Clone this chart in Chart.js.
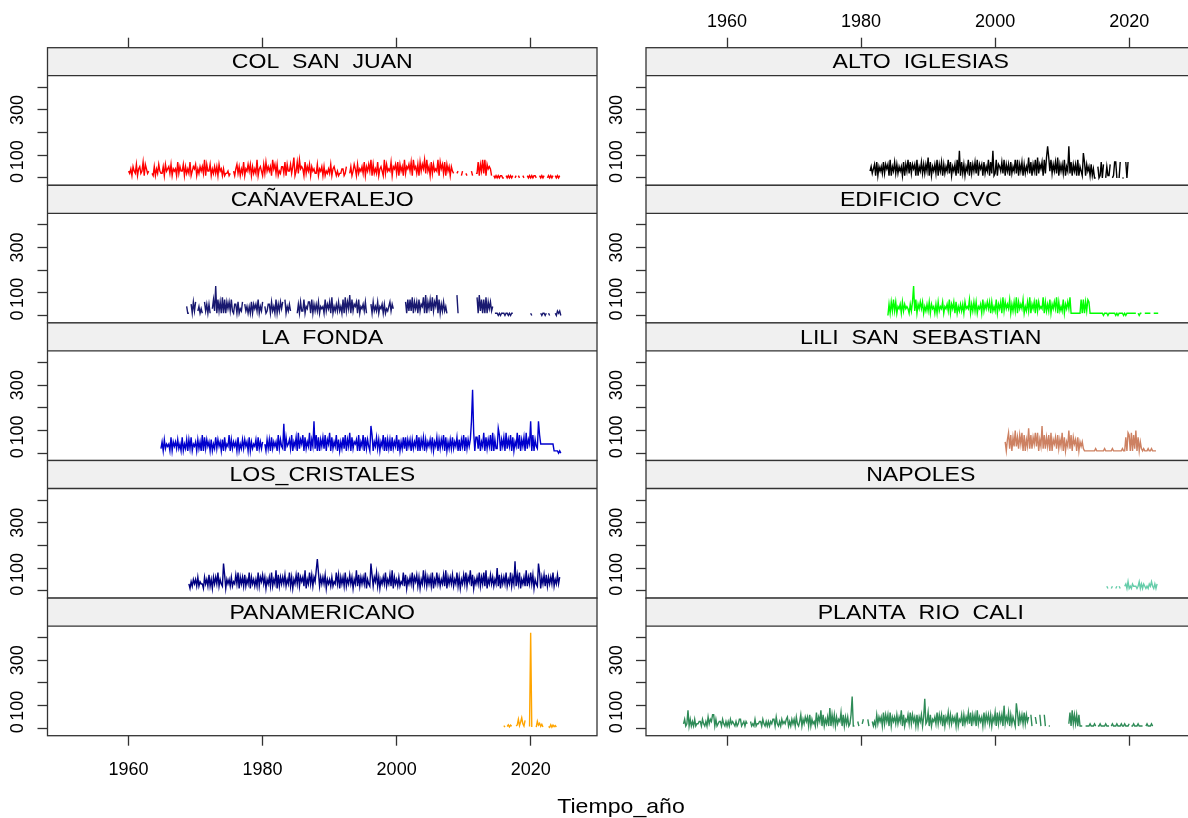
<!DOCTYPE html>
<html>
<head>
<meta charset="utf-8">
<script src="https://cdn.jsdelivr.net/npm/chart.js@4.4.1/dist/chart.umd.min.js"></script>
<style>
html, body { margin: 0; padding: 0; background: #fff; overflow: hidden; width: 1188px; height: 818px; }
canvas { position: absolute; left: 0; top: 0; }
#xlab { position: absolute; left: 421px; top: 794px; width: 400px; text-align: center;
        font: 21px "Liberation Sans", Arial, sans-serif; line-height: 24px; color: #000;
        transform: scaleX(1.1); }
</style>
</head>
<body>
<div id="panels"></div>
<div id="xlab">Tiempo_año</div>
<script>
// one character per two months (6 per year), unit 10 mm (0-9, a=100, b=110, ...), "." = no data
const colSanJuan = "324153 261452 371642 3..215 142632 251634 526143 417253 361524 271354 614253 528163 361425 251634 141223 12..31 462514 271436 361524 281453 162735 351846 261325 527163 362591 372845 417253 615342 261435 151324 261453 131224 4125.. 251364 162435 271536 381624 271453 182634 371546 271635 182546 371845 261736 482835 172634 381746 271635 1532.. 23..13 ..21.. .31..2 271638 281645 41.101 010110 0.1010 101.01 .10..1 0..101 010110 ..1010 1..010 101.10 101";
const canaveralejo = "41 1.5162 6.2413 1.6251 51.372 d17261 817163 627215 516132 6.5241 416153 527142 6.4125 516241 715263 6.7142 52.... .15162 271436 617152 526143 417253 618142 526241 718263 917254 617143 5261.. .51624 261435 151324 6253.. ...... ..6172 728163 617254 819163 728264 917152 6241.. ...... 91.... ...... ...... 819271 718163 624.11 101011 101101 011... ...... ...... 10.... ...101 101.10 ....10 2120";
const laFonda = "2 516243 417153 526241 714261 627143 516251 817263 516142 726351 617243 816253 517142 626351 715243 617252 5.4162 617253 518263 2d1734 628153 719264 817253 9163e2 817163 728164 917253 816152 728163 917254 618153 817263 1c8153 726153 817162 617253 816152 727163 616253 817163 716253 627153 716263 817152 627253 716163 817263 6es917 728153 917263 819162 2b8163 719263 817153 928163 719264 e18163 2e8444 444444 444111 1010";
const losCristales = "314253 526243 316352 725163 638253 2c7153 526243 738163 627253 816352 528264 736153 628253 917263 637253 826153 738264 629153 837264 9e8263 637153 526243 837163 628253 736153 927263 638153 2c7264 826153 638253 729163 526243 827153 638264 726153 937263 628153 836253 729163 637253 826153 738264 927153 638263 829153 736253 a27163 638253 8263d2 738153 629263 837153 2c8163 727263 638253 736";
const panamericano = [12, 5, null, 8, 15, 6, 14, 9, null, null, null, 10, 15, 40, 12, 28, 47, 20, 10, 35, null, null, null, 8,
                      422, 6, null, null, null, 5, 31, 14, 22, 9, 18, 6, null, null, null, null, 8, 4, 16, 5, 14, 7, 12, 6];
const altoIglesias = "3524 617153 527264 618153 726253 517163 827264 618153 726263 917153 628163 716253 827153 6182c1 726153 817263 728164 617253 8172c1 281653 728163 617253 828163 716253 927163 819264 71829e 938263 729163 628153 e27163 618153 1b7163 516140 0.5017 06.051 16.017 70.07. 00.707";
const edificioCvc = "051627 261435 162534 31526d 271536 361425 261534 151624 361435 271536 161425 251634 371526 261435 172536 361624 271536 182635 371526 281635 371426 281536 172634 381625 271536 381624 271536 381111 111117 171627 611111 111111 101110 111111 010111 101011 111111 1.1011 ..1111 11..11 111";
const liliSanSebastian = "516 928173 a37284 918163 b28274 939163 c28273 819164 728263 917153 a28174 617153 521111 111111 211111 112111 111211 111111 211719 819182 a17152 121112 112111 1";
const napoles = "21 ..12.. 12.21. ..2314 121322 212413 132121 324213 13";
const plantaRioCali = "241 281413 141223 314213 152436 614123 314213 131423 213124 412313 2..312 141223 314213 131324 415213 142324 513142 415213 614253 516142 317253 816142 519162 615243 716152 5126e1 1..31. .24... 41..31 316253 517263 617153 526253 816143 627263 516153 615d23 716143 527263 616153 726253 517143 616253 727163 618253 517263 626153 717263 61a253 716253 1b7163 627263 5.61.. 52..61 ..61.. 11.... ...... ...... 271826 261611 1..111 121112 1.1121 111211 1.1211 121112 112111 2.1121 112111 1..121 1121";

// left column top to bottom, then right column
const stations = ["COL  SAN  JUAN", "CAÑAVERALEJO", "LA  FONDA", "LOS_CRISTALES", "PANAMERICANO",
                  "ALTO  IGLESIAS", "EDIFICIO  CVC", "LILI  SAN  SEBASTIAN", "NAPOLES", "PLANTA  RIO  CALI"];
const seriesValues = [colSanJuan, canaveralejo, laFonda, losCristales, panamericano,
                      altoIglesias, edificioCvc, liliSanSebastian, napoles, plantaRioCali];
const startYears = [1960, 1968.667, 1964.833, 1969, 2016, 1981.333, 1984, 2001.5, 2016.667, 1953.5];
const colours = ["#ff0000", "#191970", "#0000cd", "#000080", "#ffa500",
                 "#000000", "#00ff00", "#cd8162", "#66cdaa", "#2e8b57"];
const xTicks = [1960, 1980, 2000, 2020];
const yTicks = [0, 100, 200, 300, 400];
const yTickLabels = [0, 100, 300];

const FONT = '"Liberation Sans", Arial, sans-serif';
Chart.defaults.font.family = FONT;

const CANVAS_W = 1200, CANVAS_H = 818;
const colLeft = [47.5, 646], colRight = [597, 1195.5];
const firstTop = 47.7, rowH = 137.6, stripH = 28;
const xMin = 1947.9, xMax = 2029.9;
const yMin = -32.5, yTop = 451;
const yMax = yTop + stripH * (yTop - yMin) / (rowH - stripH);
const axisW = 40, axisH = 40;

function toPoints(values, start) {
  const list = typeof values === "string"
    ? values.replace(/ /g, "").split("").map(c => c === "." ? null : parseInt(c, 36) * 10)
    : values;
  return list.map((v, i) => ({ x: start + i / 6, y: v }));
}

const panelFrame = {
  id: "panelFrame",
  beforeDatasetsDraw(chart, args, opts) {
    const a = chart.chartArea, ctx = chart.ctx;
    ctx.save();
    ctx.fillStyle = "#f0f0f0";
    ctx.fillRect(a.left, a.top, a.right - a.left, stripH);
    ctx.fillStyle = "#000";
    ctx.font = "21px " + FONT;
    ctx.textAlign = "center";
    ctx.textBaseline = "middle";
    ctx.translate((a.left + a.right) / 2, a.top + stripH / 2 + 1);
    ctx.scale(1.1, 1);
    ctx.fillText(opts.title, 0, 0);
    ctx.restore();
  },
  afterDatasetsDraw(chart) {
    const a = chart.chartArea, ctx = chart.ctx, y = chart.scales.y;
    ctx.save();
    ctx.strokeStyle = "#333";
    ctx.lineWidth = 1.3;
    ctx.strokeRect(a.left, a.top, a.right - a.left, a.bottom - a.top);
    ctx.beginPath();
    ctx.moveTo(a.left, a.top + stripH);
    ctx.lineTo(a.right, a.top + stripH);
    ctx.stroke();
    ctx.fillStyle = "#000";
    ctx.font = "18px " + FONT;
    ctx.textAlign = "center";
    ctx.textBaseline = "middle";
    yTickLabels.forEach(v => {
      ctx.save();
      ctx.translate(a.left - 29, y.getPixelForValue(v));
      ctx.rotate(-Math.PI / 2);
      ctx.fillText(String(v), 0, 0);
      ctx.restore();
    });
    ctx.restore();
  }
};

const holder = document.getElementById("panels");
stations.forEach((name, i) => {
  const col = Math.floor(i / 5), row = i % 5;
  const top = firstTop + row * rowH, bottom = top + rowH;
  const hasTop = row === 0, hasBottom = row === 4;
  const canvas = document.createElement("canvas");
  canvas.width = CANVAS_W;
  canvas.height = CANVAS_H;
  holder.appendChild(canvas);

  new Chart(canvas, {
    type: "line",
    data: {
      datasets: [{
        data: toPoints(seriesValues[i], startYears[i]),
        borderColor: colours[i],
        borderWidth: 1.4,
        pointRadius: 0,
        tension: 0,
        spanGaps: false,
        fill: false
      }]
    },
    options: {
      responsive: false,
      animation: false,
      events: [],
      layout: {
        padding: {
          left: colLeft[col] - axisW,
          right: CANVAS_W - colRight[col],
          top: hasTop ? top - axisH : top,
          bottom: hasBottom ? CANVAS_H - bottom - axisH : CANVAS_H - bottom
        }
      },
      plugins: { legend: { display: false }, tooltip: { enabled: false }, panelFrame: { title: name } },
      scales: {
        x: {
          type: "linear", min: xMin, max: xMax,
          position: hasBottom ? "bottom" : "top",
          display: hasTop || hasBottom,
          afterBuildTicks: s => { s.ticks = xTicks.map(v => ({ value: v })); },
          afterFit: s => { s.height = (hasTop || hasBottom) ? axisH : 0; },
          grid: { drawOnChartArea: false, drawTicks: true, tickLength: 10, tickWidth: 1.3, tickColor: "#333" },
          border: { display: false },
          ticks: {
            display: (hasTop && col === 1) || (hasBottom && col === 0),
            font: { size: 18 }, color: "#000", padding: hasTop ? 5 : 14, maxRotation: 0,
            callback: v => String(v)
          }
        },
        y: {
          type: "linear", min: yMin, max: yMax, position: "left",
          afterBuildTicks: s => { s.ticks = yTicks.map(v => ({ value: v })); },
          afterFit: s => { s.width = axisW; },
          grid: { drawOnChartArea: false, drawTicks: true, tickLength: 10, tickWidth: 1.3, tickColor: "#333" },
          border: { display: false },
          ticks: { display: false }
        }
      }
    },
    plugins: [panelFrame]
  });
});
</script>
</body>
</html>
